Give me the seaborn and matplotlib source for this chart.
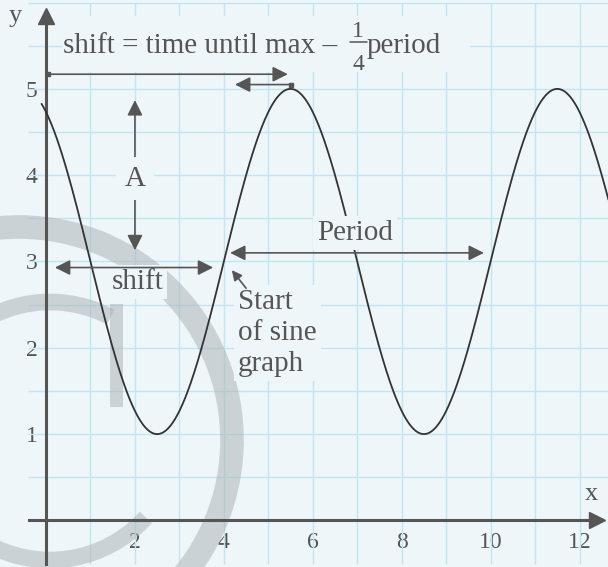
import numpy as np
import pandas as pd
import matplotlib.pyplot as plt
import seaborn as sns
from matplotlib.patches import Arc, Rectangle

# sine wave parameters
amplitude = 2
midline = 3
period = 6
shift = 4
x_start, x_end = -0.1, 12.65

xticks = [2, 4, 6, 8, 10, 12]
yticks = [1, 2, 3, 4, 5]

bg = '#eef6f9'
ink = '#555555'
grid_col = '#c2e5f3'

sns.set_theme(style='white')
plt.rcParams['font.family'] = ['Liberation Serif', 'DejaVu Serif']

x = np.linspace(x_start, x_end, 800)
wave = pd.DataFrame({'x': x, 'y': midline + amplitude * np.sin(2 * np.pi / period * (x - shift))})

fig = plt.figure(figsize=(6.08, 5.67), dpi=100, facecolor=bg)
ax = fig.add_axes([0, 0, 1, 1])
ax.set_facecolor(bg)
ax.set_xlim(-1.035, 12.64)
ax.set_ylim(-0.54, 6.03)

# graph paper grid
ax.vlines(range(1, 13), -0.5, 6.0, color=grid_col, lw=1, zorder=1)
ax.hlines(np.arange(0.5, 6.01, 0.5), -0.4, 12.64, color=grid_col, lw=1, zorder=1)

# faint copyright watermark (pixel based, in inches)
wm = dict(color='#aab0b3', alpha=0.5, transform=fig.dpi_scale_trans, zorder=2)
ax.add_patch(Arc((0.19, 1.27), 4.26, 4.26, theta1=0, theta2=360, lw=17, **wm))
ax.add_patch(Arc((0.50, 1.36), 2.58, 2.58, theta1=62, theta2=318, lw=12, **wm))
ax.add_patch(Rectangle((1.10, 1.60), 0.13, 1.03, lw=0, **wm))

# the curve
sns.lineplot(data=wave, x='x', y='y', color='#333333', lw=1.3, ax=ax, zorder=3, sort=False)
ax.set_xlabel('')
ax.set_ylabel('')

# axes through the origin
ax.spines[['top', 'right']].set_visible(False)
for side in ['left', 'bottom']:
    ax.spines[side].set_position(('data', 0))
    ax.spines[side].set_color(ink)
    ax.spines[side].set_linewidth(2.2)
ax.spines['left'].set_bounds(-0.5, 5.85)
ax.spines['bottom'].set_bounds(-0.38, 12.4)
ax.plot(12.4, 0, marker='>', ms=11, color=ink, clip_on=False, zorder=4)
ax.plot(0, 5.85, marker='^', ms=12, color=ink, clip_on=False, zorder=4)
ax.set_xticks(xticks)
ax.set_yticks(yticks)
ax.tick_params(axis='both', length=0, labelsize=17, colors=ink)
ax.tick_params(axis='x', pad=8)
ax.tick_params(axis='y', pad=6)
ax.text(-0.7, 5.84, 'y', color=ink, fontsize=19, ha='center', va='center')
ax.text(12.27, 0.31, 'x', color=ink, fontsize=19, ha='center', va='center')

box = dict(boxstyle='square,pad=0.15', fc=bg, ec='none')
txt = dict(color=ink, fontsize=21, zorder=6)


def arrow(x0, y0, x1, y1, style, ms=23, z=7):
    ax.annotate('', xy=(x1, y1), xytext=(x0, y0), zorder=z,
                arrowprops=dict(arrowstyle=style, color=ink, lw=1.2,
                                shrinkA=0, shrinkB=0, mutation_scale=ms))


# top formula
ax.add_patch(Rectangle((0.36, 5.19), 9.18, 0.66, fc=bg, ec='none', zorder=2.5))
ax.text(0.38, 5.42, 'shift = time until max \u2013 ', ha='left', va='baseline', **txt)
ax.text(7.02, 5.60, '1', ha='center', va='baseline', color=ink, fontsize=17, zorder=6)
ax.text(7.02, 5.215, '4', ha='center', va='baseline', color=ink, fontsize=17, zorder=6)
ax.plot([6.84, 7.21], [5.545, 5.545], color=ink, lw=1.1, zorder=6)
ax.text(7.22, 5.42, 'period', ha='left', va='baseline', **txt)

arrow(0, 5.17, 5.44, 5.17, '-|>')
ax.plot(0.05, 5.17, marker='s', ms=3, color=ink, zorder=7)
arrow(5.5, 5.05, 4.25, 5.05, '-|>')
ax.plot(5.5, 5.05, marker='s', ms=3, color=ink, zorder=7)

# amplitude (label box hides the middle of the arrow)
arrow(2.0, 3.13, 2.0, 4.87, '<|-|>', z=4)
ax.text(2.0, 3.88, 'A', ha='center', va='baseline', bbox=dict(boxstyle='square,pad=0.3', fc=bg, ec='none'), **txt)

# shift
arrow(0.2, 2.93, 3.76, 2.93, '<|-|>')
ax.text(2.05, 2.68, 'shift', ha='center', va='baseline', bbox=box, **txt)

# period
arrow(4.14, 3.10, 9.85, 3.10, '<|-|>')
ax.text(6.95, 3.25, 'Period', ha='center', va='baseline', bbox=box, **txt)

# start of sine graph
arrow(4.5, 2.69, 4.18, 2.90, '-|>', ms=15)
ax.text(4.32, 2.68, 'Start\nof sine\ngraph', ha='left', va='top', linespacing=1.24, bbox=box, **txt)

fig.savefig('out.png', dpi=100, facecolor=bg)
